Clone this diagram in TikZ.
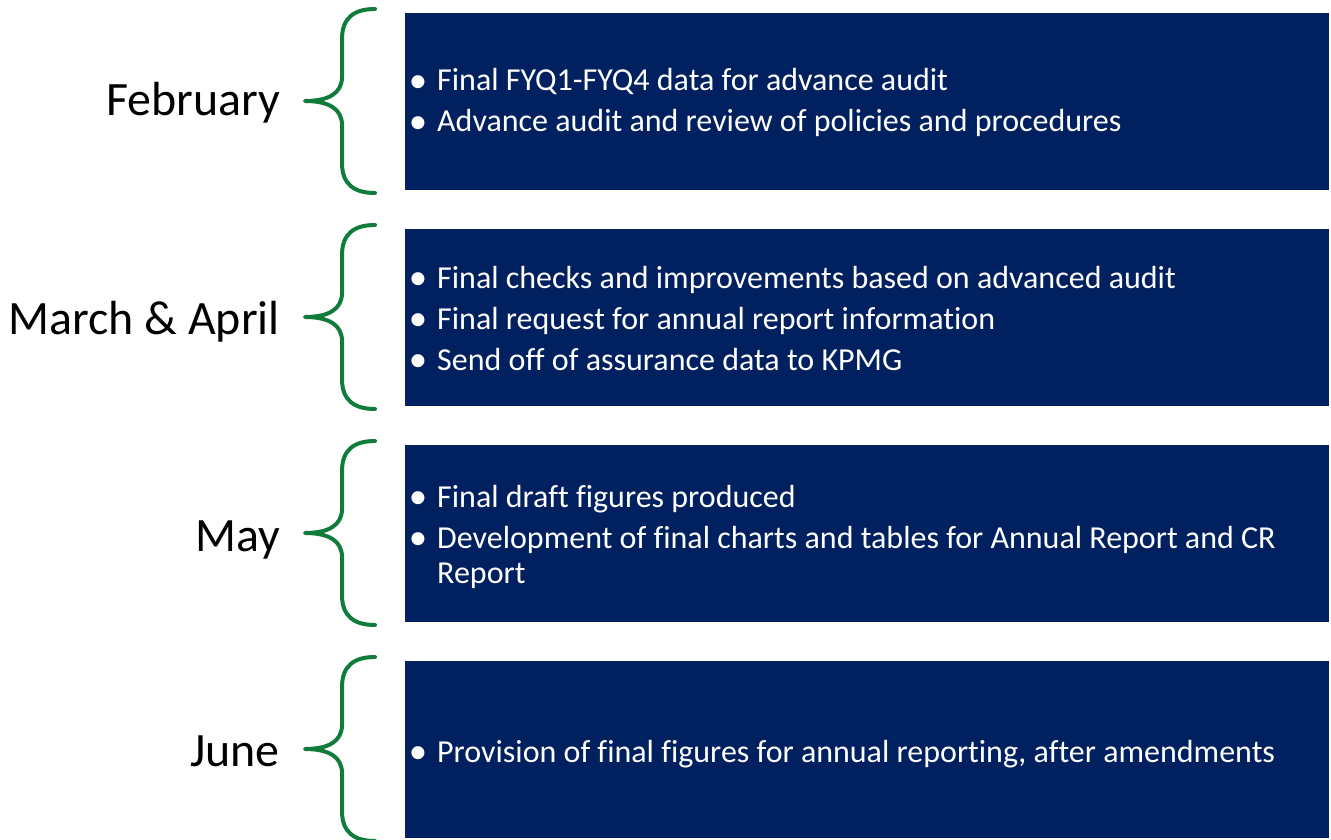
\documentclass[tikz,border=0pt]{standalone}
\usepackage{fontspec}
\setmainfont{Carlito}[Ligatures={NoCommon}]
\definecolor{navy}{RGB}{0,32,96}
\definecolor{bracegreen}{RGB}{16,124,60}
\tikzset{
  x=1pt, y=1pt,
  panel/.style={fill=navy, draw=none, minimum width=924pt, minimum height=177pt, inner sep=0pt, anchor=north west},
  month/.style={font=\fontsize{47.9}{56}\selectfont, text=black, inner sep=0pt, anchor=base east},
  item/.style={font=\fontsize{32}{38}\selectfont, text=white, inner sep=0pt, anchor=base west},
  bracestyle/.style={draw=bracegreen, line width=4pt, line cap=round, line join=round},
  curly/.pic={\draw[bracestyle] (70,92) .. controls (50,92) and (37,84) .. (37,62) -- (37,24) .. controls (37,8) and (24,0) .. (0,0) .. controls (24,0) and (37,-8) .. (37,-24) -- (37,-62) .. controls (37,-84) and (50,-92) .. (70,-92);}
}
\newcommand{\bul}{\llap{\raisebox{-1.2pt}{\scalebox{1.15}{•}}\hspace{10pt}}}
\begin{document}
\begin{tikzpicture}
\useasboundingbox (0,0) rectangle (1331,-840);
% panels
\node[panel] (p1) at (405,-13) {};
\node[panel] (p2) at (405,-229) {};
\node[panel] (p3) at (405,-445) {};
\node[panel] (p4) at (405,-661) {};
% braces
\pic at (305,-101) {curly};
\pic at (305,-317) {curly};
\pic at (305,-533) {curly};
\pic at (305,-749) {curly};
% months
\node[month] (m1) at (280,-116) {February};
\node[month] (m2) at (280,-334) {March \& April};
\node[month] (m3) at (280,-551) {May};
\node[month] (m4) at (280,-766) {June};
% items
\node[item] (a1) at (437,-91) {\bul Final FYQ1-FYQ4 data for advance audit};
\node[item] (a2) at (437,-132) {\bul Advance audit and review of policies and procedures};
\node[item] (b1) at (437,-288) {\bul Final checks and improvements based on advanced audit};
\node[item] (b2) at (437,-329) {\bul Final request for annual report information};
\node[item] (b3) at (437,-370) {\bul Send off of assurance data to KPMG};
\node[item] (c1) at (437,-507) {\bul Final draft figures produced};
\node[item] (c2) at (437,-548) {\bul Development of final charts and tables for Annual Report and CR};
\node[item] (c3) at (437,-583) {Report};
\node[item] (d1) at (437,-762) {\bul Provision of final figures for annual reporting, after amendments};
\end{tikzpicture}
\end{document}
